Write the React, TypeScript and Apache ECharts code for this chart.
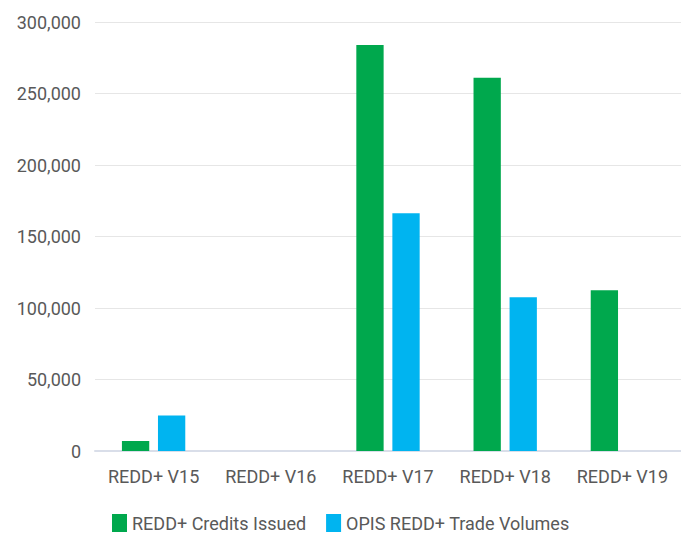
import React, { useEffect, useRef } from "react";
import * as echarts from "echarts";

const categories = ["REDD+ V15", "REDD+ V16", "REDD+ V17", "REDD+ V18", "REDD+ V19"];
const creditsIssued = [7000, null, 284000, 261000, 112500];
const tradeVolumes = [24800, null, 166300, 107600, null];
const seriesNames = ["REDD+ Credits Issued", "OPIS REDD+ Trade Volumes"];

const FONT = 'Roboto, "Liberation Sans", sans-serif';

export default function App() {
  const ref = useRef<HTMLDivElement>(null);
  useEffect(() => {
    if (!ref.current) return;
    const chart = echarts.init(ref.current, null, { renderer: "svg" });
    chart.setOption({
      animation: false,
      backgroundColor: "#ffffff",
      grid: { left: 95, right: -3, top: 22, bottom: 88, containLabel: false },
      legend: {
        left: 112,
        top: 514,
        padding: 0,
        itemWidth: 15,
        itemHeight: 18,
        itemGap: 20,
        icon: "rect",
        textStyle: { color: "#595959", fontSize: 18, lineHeight: 18, fontFamily: FONT },
        data: seriesNames,
      },
      xAxis: {
        type: "category",
        data: categories,
        axisLine: { lineStyle: { color: "#d9dee9", width: 2 } },
        axisTick: { show: false },
        axisLabel: { color: "#595959", fontSize: 18, fontFamily: FONT, margin: 16, interval: 0 },
      },
      yAxis: {
        type: "value",
        min: 0,
        max: 300000,
        interval: 50000,
        axisLine: { show: false },
        axisTick: { show: false },
        splitLine: { lineStyle: { color: "#e6e6e6", width: 1 } },
        axisLabel: {
          color: "#595959",
          fontSize: 18,
          fontFamily: FONT,
          margin: 14,
          formatter: (v: number) => v.toLocaleString("en-US"),
        },
      },
      series: [
        {
          name: seriesNames[0],
          type: "bar",
          data: creditsIssued,
          barWidth: "23.3%",
          barGap: "32%",
          itemStyle: { color: "#00A84D" },
        },
        {
          name: seriesNames[1],
          type: "bar",
          data: tradeVolumes,
          barWidth: "23.3%",
          barGap: "32%",
          itemStyle: { color: "#00B4F0" },
        },
      ],
    });
    return () => chart.dispose();
  }, []);
  return (
    <div
      ref={ref}
      style={{ position: "absolute", left: 0, top: 0, width: 681, height: 539 }}
    />
  );
}
